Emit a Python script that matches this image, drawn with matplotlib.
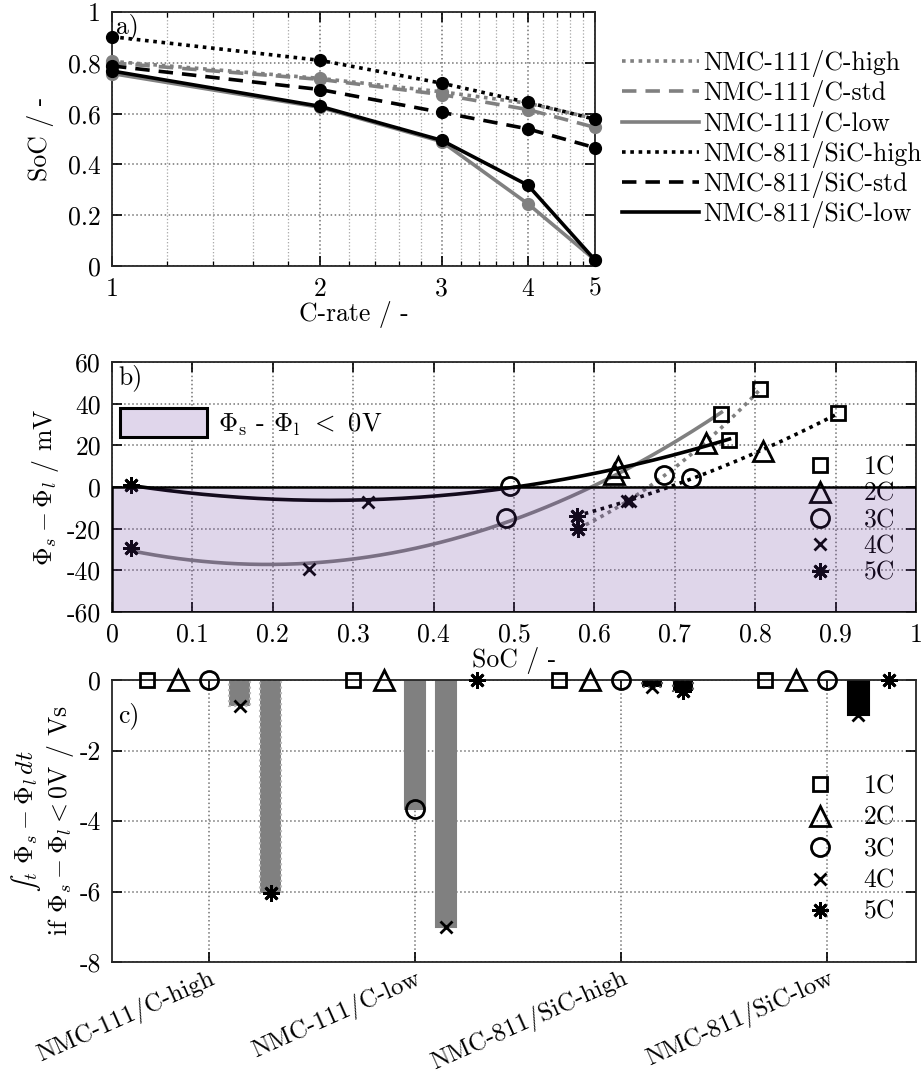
import numpy as np
import matplotlib
matplotlib.use("Agg")
import matplotlib.pyplot as plt
from matplotlib.lines import Line2D
from matplotlib.patches import Patch
from matplotlib.ticker import FixedLocator, FuncFormatter, NullFormatter

plt.rcParams['font.family'] = ['cmr10', 'DejaVu Serif']
plt.rcParams['mathtext.fontset'] = 'cm'
plt.rcParams['axes.formatter.use_mathtext'] = True
plt.rcParams['axes.unicode_minus'] = False
plt.rcParams['font.size'] = 18.5

FS = 18.5

# ---- data ----
c_rates = [1, 2, 3, 4, 5]
rate_labels = ["1C", "2C", "3C", "4C", "5C"]
cells = ["NMC-111/C-high", "NMC-111/C-std", "NMC-111/C-low",
         "NMC-811/SiC-high", "NMC-811/SiC-std", "NMC-811/SiC-low"]

# a) SoC reached at end of charge, 1C..5C
soc_111_high = [0.806, 0.739, 0.686, 0.641, 0.580]
soc_111_std = [0.800, 0.735, 0.675, 0.616, 0.546]
soc_111_low = [0.758, 0.625, 0.490, 0.245, 0.024]
soc_811_high = [0.903, 0.810, 0.720, 0.644, 0.578]
soc_811_std = [0.788, 0.695, 0.605, 0.540, 0.466]
soc_811_low = [0.768, 0.629, 0.495, 0.318, 0.024]

# b) minimum anode potential difference / mV, 1C..5C
phi_111_high = [47.0, 21.2, 5.6, -6.7, -20.0]
phi_111_low = [34.8, 6.0, -14.7, -39.5, -29.5]
phi_811_high = [35.5, 17.3, 4.5, -6.5, -13.9]
phi_811_low = [22.5, 9.5, 0.3, -7.2, 1.0]

# c) integral below 0 V / Vs, 1C..5C
bar_cells = ["NMC-111/C-high", "NMC-111/C-low", "NMC-811/SiC-high", "NMC-811/SiC-low"]
int_111_high = [0, 0, 0, -0.75, -6.05]
int_111_low = [0, 0, -3.65, -7.0, 0]
int_811_high = [0, 0, 0, -0.2, -0.3]
int_811_low = [0, 0, 0, -1.0, 0]

GREY = (0.5, 0.5, 0.5)
markers = ['s', '^', 'o', 'x', (8, 2, 0)]
msizes = [10, 15, 13, 9, 12]

fig = plt.figure(figsize=(9.24, 10.78), dpi=100)
ax_a = fig.add_axes([0.1212, 0.7532, 0.5227, 0.2356])
ax_b = fig.add_axes([0.1212, 0.4323, 0.8701, 0.2319])
ax_c = fig.add_axes([0.1212, 0.1076, 0.8701, 0.2616])


def style(ax):
    for s in ax.spines.values():
        s.set_color('0.15')
        s.set_linewidth(1.3)
    ax.tick_params(direction='in', top=True, right=True, length=7, width=1.2,
                   labelsize=FS, pad=8)
    ax.tick_params(which='minor', direction='in', top=True, right=True, length=3.5, width=0.9)
    ax.grid(True, which='major', ls=':', color='0.45', lw=1.1)


fmt = FuncFormatter(lambda v, p: '%g' % v)

# ---- a) ----
dot = (0, (1, 1.3))
dash = (0, (4, 2.5))
series_a = [(soc_111_high, GREY, dot), (soc_111_std, GREY, dash), (soc_111_low, GREY, '-'),
            (soc_811_high, 'k', dot), (soc_811_std, 'k', dash), (soc_811_low, 'k', '-')]
handles = []
for (vals, col, ls), name in zip(series_a, cells):
    ax_a.plot(c_rates, vals, color=col, ls=ls, lw=2.6, marker='o', ms=8.5,
              mfc=col, mec=col, clip_on=False, zorder=3)
    handles.append(Line2D([], [], color=col, ls=ls, lw=2.6))
ax_a.set_xscale('log')
ax_a.set_xlim(1, 5)
ax_a.set_ylim(0, 1)
ax_a.xaxis.set_major_locator(FixedLocator(c_rates))
ax_a.xaxis.set_major_formatter(fmt)
ax_a.xaxis.set_minor_locator(FixedLocator([1.2, 1.4, 1.6, 1.8, 2.2, 2.4, 2.6, 2.8,
                                           3.2, 3.4, 3.6, 3.8, 4.2, 4.4, 4.6, 4.8]))
ax_a.xaxis.set_minor_formatter(NullFormatter())
ax_a.set_yticks(np.arange(0, 1.01, 0.2))
ax_a.yaxis.set_major_formatter(fmt)
style(ax_a)
ax_a.grid(True, which='minor', axis='x', ls=':', color='0.65', lw=0.9)
ax_a.set_xlabel("C-rate / -", fontsize=FS, labelpad=0)
ax_a.set_ylabel("SoC / -", fontsize=FS, labelpad=10)
ax_a.text(0.008, 0.995, "a)", transform=ax_a.transAxes, va='top', ha='left', fontsize=FS)
ax_a.legend(handles, cells, loc='center left', bbox_to_anchor=(1.03, 0.5), frameon=False,
            fontsize=FS, handlelength=3.0, handletextpad=0.15, labelspacing=0.12, borderpad=0)

# ---- b) ----
series_b = [(soc_111_high, phi_111_high, GREY, dot), (soc_111_low, phi_111_low, GREY, '-'),
            (soc_811_high, phi_811_high, 'k', dot), (soc_811_low, phi_811_low, 'k', '-')]
for soc, phi, col, ls in series_b:
    coef = np.polyfit(soc, phi, 2)
    xs = np.linspace(min(soc), max(soc), 200)
    ax_b.plot(xs, np.polyval(coef, xs), color=col, ls=ls, lw=2.6, zorder=3)
    for j in range(5):
        ax_b.plot(soc[j], phi[j], ls='none', marker=markers[j], ms=msizes[j], mfc='none',
                  mec='k', mew=2, zorder=4)
ax_b.axhspan(-60, 0, facecolor=(0.39, 0.2, 0.59, 0.2), edgecolor='k', lw=1.8, zorder=10)
ax_b.set_xlim(0, 1)
ax_b.set_ylim(-60, 60)
ax_b.set_xticks(np.arange(0, 1.01, 0.1))
ax_b.set_yticks(np.arange(-60, 61, 20))
ax_b.xaxis.set_major_formatter(fmt)
ax_b.yaxis.set_major_formatter(fmt)
style(ax_b)
ax_b.set_xlabel("SoC / -", fontsize=FS, labelpad=0)
ax_b.set_ylabel(r"$\Phi_s - \Phi_l$ / mV", fontsize=FS, labelpad=4)
ax_b.text(0.008, 0.99, "b)", transform=ax_b.transAxes, va='top', ha='left', fontsize=FS)

mk_handles = [Line2D([], [], ls='none', marker=markers[j], ms=msizes[j], mfc='none', mec='k', mew=2)
              for j in range(5)]
patch = Patch(facecolor=(0.88, 0.84, 0.92), edgecolor='k', lw=2.2)
leg1 = ax_b.legend([patch], [r"$\Phi_\mathrm{s}$ - $\Phi_\mathrm{l}$ $<$ 0V"], loc='upper left',
                   bbox_to_anchor=(0.01, 0.815), frameon=False, fontsize=19, handlelength=3.3,
                   handleheight=1.3, handletextpad=0.4, borderpad=0, borderaxespad=0)
leg1.set_zorder(20)
ax_b.add_artist(leg1)
leg2 = ax_b.legend(mk_handles, rate_labels, loc='upper left', bbox_to_anchor=(0.858, 0.625),
                   frameon=False, fontsize=FS, handlelength=1.4, handletextpad=1.0,
                   labelspacing=0.1, borderpad=0, borderaxespad=0)
leg2.set_zorder(5)

# ---- c) ----
series_c = [(int_111_high, GREY, ':', '0.72'), (int_111_low, GREY, '-', GREY),
            (int_811_high, 'k', ':', '0.35'), (int_811_low, 'k', '-', 'k')]
offsets = [-0.3, -0.15, 0.0, 0.15, 0.3]
for i, (vals, col, ls, ec) in enumerate(series_c):
    for j in range(5):
        x = i + 1 + offsets[j]
        if vals[j] != 0:
            ax_c.bar(x, vals[j], width=0.1, color=col, edgecolor=ec, linestyle=ls, lw=1.5, zorder=2)
        ax_c.plot(x, vals[j], ls='none', marker=markers[j], ms=msizes[j], mfc='none',
                  mec='k', mew=2, zorder=4, clip_on=False)
ax_c.set_xlim(0.53, 4.43)
ax_c.set_ylim(-8, 0)
ax_c.set_xticks([1, 2, 3, 4])
ax_c.set_xticklabels(bar_cells, rotation=24, ha='right', rotation_mode='anchor')
ax_c.set_yticks(np.arange(-8, 0.1, 2))
ax_c.yaxis.set_major_formatter(fmt)
style(ax_c)
ax_c.tick_params(axis='x', labelsize=18, pad=3)
ax_c.set_ylabel("$\u222b_t\\ \\Phi_s - \\Phi_l\\,dt$" + "\n" + r"if $\Phi_s - \Phi_l < 0$V / Vs",
                fontsize=FS, linespacing=1.1)
ax_c.yaxis.set_label_coords(-0.045, 0.5)
ax_c.text(0.008, 0.92, "c)", transform=ax_c.transAxes, va='top', ha='left', fontsize=FS)
ax_c.legend(mk_handles, rate_labels, loc='upper left', bbox_to_anchor=(0.858, 0.665),
            frameon=False, fontsize=FS, handlelength=1.4, handletextpad=1.0,
            labelspacing=0.3, borderpad=0, borderaxespad=0)

fig.savefig("out.png", dpi=100)
